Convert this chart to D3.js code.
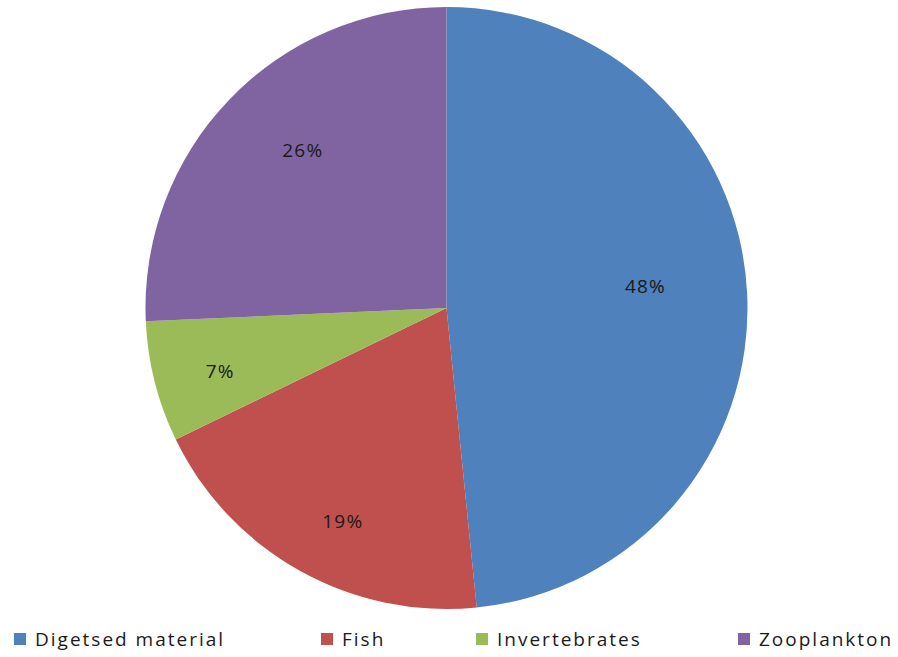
<!DOCTYPE html>
<html>
<head>
<meta charset="utf-8">
<script src="https://cdn.jsdelivr.net/npm/d3@7"></script>
<style>
  body { margin: 0; background: #fff; }
  text { font-family: "Open Sans", "DejaVu Sans", sans-serif; fill: #1a1a1a; }
</style>
</head>
<body>
<div id="chart"></div>
<script>
// data
const categories = ["Digetsed material", "Fish", "Invertebrates", "Zooplankton"];
const shares = [48.4, 19.4, 6.5, 25.7];
const colorList = ["#4F81BD", "#C0504D", "#9BBB59", "#8064A2"];

const width = 898;
const height = 657;
const cx = 446.5;
const cy = 308;
const radius = 301;
// where each % label sits: fraction of radius and angle nudge (degrees)
const labelPos = [0.665, 0.787, 0.78, 0.71];
const labelTurn = [-3.4, -3.2, -1.3, 4];
// legend item x positions
const legendX = [14, 321, 476, 738];

const data = categories.map((c, i) => ({ name: c, value: shares[i] }));
const total = d3.sum(shares);

const svg = d3
  .select("#chart")
  .append("svg")
  .attr("width", width)
  .attr("height", height);

const color = d3.scaleOrdinal().domain(categories).range(colorList);

const pie = d3.pie().sort(null).value(d => d.value);
const arc = d3.arc().innerRadius(0).outerRadius(radius);
const arcs = pie(data);

const g = svg.append("g").attr("transform", `translate(${cx},${cy})`);

g.selectAll(".slice")
  .data(arcs)
  .join("path")
  .attr("class", "slice")
  .attr("d", arc)
  .attr("fill", d => color(d.data.name));

// percent labels
g.selectAll(".pct")
  .data(arcs)
  .join("text")
  .attr("class", "pct")
  .attr("transform", (d, i) => {
    const a = (d.startAngle + d.endAngle) / 2 + (labelTurn[i] * Math.PI) / 180;
    const r = radius * labelPos[i];
    return `translate(${r * Math.sin(a)},${-r * Math.cos(a)})`;
  })
  .attr("text-anchor", "middle")
  .attr("dy", "0.36em")
  .style("font-size", "19px")
  .style("letter-spacing", "1.2px")
  .text(d => Math.round((d.data.value / total) * 100) + "%");

// legend
const legend = svg
  .append("g")
  .selectAll(".leg")
  .data(categories)
  .join("g")
  .attr("class", "leg")
  .attr("transform", (d, i) => `translate(${legendX[i]},639)`);

legend
  .append("rect")
  .attr("x", 0)
  .attr("y", -6)
  .attr("width", 12)
  .attr("height", 12)
  .attr("fill", d => color(d));

legend
  .append("text")
  .attr("x", 21)
  .attr("dy", "0.36em")
  .style("font-size", "19px")
  .style("letter-spacing", "2px")
  .text(d => d);
</script>
</body>
</html>
